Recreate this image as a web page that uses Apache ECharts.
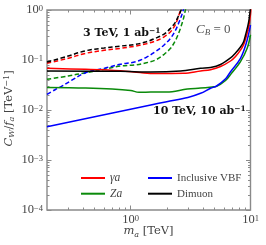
<!DOCTYPE html>
<html><head><meta charset="utf-8">
<script src="https://cdn.jsdelivr.net/npm/echarts@6/dist/echarts.min.js"></script>
<style>html,body{margin:0;padding:0;background:#fff}#c{width:266px;height:245px}</style>
</head><body><div id="c"></div>
<script>
const xMin = 0.2, xMax = 10, yMin = 1e-4, yMax = 1;
const xMajorTicks = [1, 10];
const xMinorTicks = [0.3, 0.4, 0.5, 0.6, 0.7, 0.8, 0.9, 2, 3, 4, 5, 6, 7, 8, 9];
const yMajorTicks = [1e-4, 1e-3, 1e-2, 1e-1, 1];
const yMinorTicks = [2e-4, 3e-4, 4e-4, 5e-4, 6e-4, 7e-4, 8e-4, 9e-4,
  2e-3, 3e-3, 4e-3, 5e-3, 6e-3, 7e-3, 8e-3, 9e-3,
  0.02, 0.03, 0.04, 0.05, 0.06, 0.07, 0.08, 0.09,
  0.2, 0.3, 0.4, 0.5, 0.6, 0.7, 0.8, 0.9];

// 3 TeV, 1 ab^-1 (dashed)
const gammaA_3TeV = [[0.2,0.086],[0.29,0.106],[0.42,0.136],[0.6,0.156],[0.82,0.171],[1.1,0.19],[1.35,0.212],[1.61,0.24],[1.9,0.29],[2.15,0.368],[2.35,0.5],[2.45,0.64],[2.55,0.85],[2.63,1.1]];
const dimuon_3TeV = [[0.2,0.091],[0.29,0.117],[0.42,0.153],[0.6,0.174],[0.82,0.19],[1.1,0.206],[1.35,0.232],[1.61,0.272],[1.9,0.33],[2.15,0.431],[2.35,0.56],[2.45,0.68],[2.6,0.92],[2.72,1.2]];
const vbf_3TeV = [[0.2,0.0206],[0.237,0.026],[0.26,0.029],[0.32,0.039],[0.42,0.0557],[0.6,0.068],[0.82,0.082],[1.1,0.0925],[1.35,0.113],[1.61,0.147],[1.9,0.2],[2.15,0.272],[2.35,0.38],[2.51,0.542],[2.68,0.82],[2.8,1.2]];
const za_3TeV = [[0.2,0.041],[0.3,0.048],[0.42,0.0557],[0.6,0.065],[0.82,0.0759],[1.1,0.08],[1.35,0.088],[1.61,0.1],[1.9,0.13],[2.15,0.171],[2.35,0.24],[2.51,0.342],[2.71,0.583],[2.82,0.85],[2.9,1.2]];
// 10 TeV, 10 ab^-1 (solid)
const gammaA_10TeV = [[0.2,0.068],[0.42,0.065],[0.82,0.061],[1.2,0.056],[1.6,0.0535],[2.77,0.0542],[3.83,0.0603],[4.64,0.064],[5.62,0.0741],[6.81,0.0955],[7.5,0.1175],[8.25,0.158],[8.74,0.2],[9.09,0.263],[9.62,0.437],[10,0.83],[10.1,1.2]];
const dimuon_10TeV = [[0.2,0.0603],[0.82,0.0593],[1.47,0.0575],[2.61,0.0603],[3.83,0.0682],[4.64,0.0708],[5.62,0.0813],[6.81,0.11],[7.5,0.138],[8.25,0.182],[8.74,0.229],[9.09,0.316],[9.62,0.55],[9.98,1.05]];
const za_10TeV = [[0.2,0.0282],[0.42,0.0275],[0.7,0.0263],[1.0,0.0245],[1.17,0.0226],[1.47,0.0228],[2.0,0.0229],[2.97,0.0262],[3.83,0.0275],[4.92,0.0292],[5.21,0.0297],[6.19,0.039],[6.81,0.051],[8.25,0.0925],[9.38,0.171],[10,0.32]];
const vbf_10TeV = [[0.2,0.00463],[1.47,0.0126],[2.0,0.01466],[3.0,0.0178],[3.83,0.0216],[4.64,0.0272],[5.21,0.0302],[6.19,0.042],[6.81,0.0583],[8.25,0.108],[9.23,0.219],[10,0.5]];

const FONT = '"Liberation Serif", serif';
const TFONT = '"DejaVu Serif", serif';
const AX = '#8a8a8a';
const LBL = '#444';
const RED = '#ff0000', GREEN = '#0a8a0a', BLUE = '#0000ff', BLACK = '#000';

function powLabel(v) {
  const e = Math.round(Math.log10(v));
  return '{b|10}{s|' + (e < 0 ? '\u2212' + (-e) : e) + '}';
}
const labelRich = {
  b: {fontFamily: FONT, fontSize: 12.5, color: LBL, lineHeight: 12, verticalAlign: 'bottom'},
  s: {fontFamily: FONT, fontSize: 8.5, color: LBL, lineHeight: 8, verticalAlign: 'top', padding: [0, 0, 6, 0]}
};

function xAx(pos, ticks, len, labels) {
  return {
    type: 'log', logBase: 10, min: xMin, max: xMax, position: pos,
    axisLine: {show: false}, splitLine: {show: false},
    axisTick: {show: true, inside: true, length: len, customValues: ticks, lineStyle: {color: AX, width: 1}},
    axisLabel: labels ? {show: true, customValues: xMajorTicks, formatter: powLabel, rich: labelRich, margin: 4, hideOverlap: false, showMinLabel: true, showMaxLabel: true} : {show: false}
  };
}
function yAx(pos, ticks, len, labels) {
  return {
    type: 'log', logBase: 10, min: yMin, max: yMax, position: pos,
    axisLine: {show: false}, splitLine: {show: false},
    axisTick: {show: true, inside: true, length: len, customValues: ticks, lineStyle: {color: AX, width: 1}},
    axisLabel: labels ? {show: true, customValues: yMajorTicks, formatter: powLabel, rich: labelRich, margin: 4, hideOverlap: false} : {show: false}
  };
}

function ser(name, data, color, dashed) {
  return {
    name: name, type: 'line', data: data, symbol: 'none', smooth: 0.35,
    xAxisIndex: 0, yAxisIndex: 0, clip: true,
    lineStyle: {color: color, width: 1.5, type: dashed ? [4.5, 2.5] : 'solid'},
    itemStyle: {color: color}, z: dashed ? 3 : 4
  };
}

const sub = {fontFamily: TFONT, fontStyle: 'italic', fontSize: 8, fill: LBL, lineHeight: 8, verticalAlign: 'bottom'};
const boldRich = {
  b: {fontFamily: TFONT, fontWeight: 'bold', fontSize: 11, fill: '#111', lineHeight: 12, verticalAlign: 'bottom'},
  s: {fontFamily: TFONT, fontWeight: 'bold', fontSize: 7.5, fill: '#111', lineHeight: 8, verticalAlign: 'top', padding: [0,0,6,0]}
};
const chart = echarts.init(document.getElementById('c'), null, {renderer: 'canvas'});
chart.setOption({
  animation: false,
  backgroundColor: '#fff',
  grid: {left: 47, right: 15.5, top: 10, bottom: 35, show: true, borderColor: AX, borderWidth: 1.4, backgroundColor: 'transparent'},
  xAxis: [xAx('bottom', xMinorTicks, 2.5, true), xAx('top', xMinorTicks, 2.5, false), xAx('bottom', xMajorTicks, 4.5, false), xAx('top', xMajorTicks, 4.5, false)],
  yAxis: [yAx('left', yMinorTicks, 2.5, true), yAx('right', yMinorTicks, 2.5, false), yAx('left', yMajorTicks, 4.5, false), yAx('right', yMajorTicks, 4.5, false)],
  legend: [
    {data: ['\u03b3a', 'Za'], orient: 'vertical', left: 81, top: 171.5, padding: 0, icon: 'rect', itemWidth: 24, itemHeight: 2, itemGap: 2.7,
     textStyle: {fontFamily: FONT, fontSize: 11.5, color: LBL, fontStyle: 'italic', lineHeight: 13}},
    {data: ['Inclusive VBF', 'Dimuon'], orient: 'vertical', left: 148, top: 171.5, padding: 0, icon: 'rect', itemWidth: 24, itemHeight: 2, itemGap: 2.7,
     textStyle: {fontFamily: FONT, fontSize: 11, color: LBL, lineHeight: 13}}
  ],
  graphic: [
    {type: 'text', x: 83, y: 33, z: 10, style: {text: '{b|3 TeV, 1 ab}{s|\u22121}', verticalAlign: 'middle', rich: boldRich}},
    {type: 'text', x: 153, y: 111, z: 10, style: {text: '{b|10 TeV, 10 ab}{s|\u22121}', verticalAlign: 'middle', rich: boldRich}},
    {type: 'text', x: 196, y: 30, z: 10, style: {text: '{i|C}{sub|B}{n| = 0}', verticalAlign: 'middle',
      rich: {i: {fontFamily: FONT, fontStyle: 'italic', fontSize: 13, fill: '#555', lineHeight: 14, verticalAlign: 'top', padding: [0,0,3,0]},
             sub: {fontFamily: FONT, fontStyle: 'italic', fontSize: 9, fill: '#555', lineHeight: 9, verticalAlign: 'bottom'},
             n: {fontFamily: FONT, fontSize: 13, fill: '#555', lineHeight: 14, verticalAlign: 'top', padding: [0,0,3,0]}}}},
    {type: 'text', x: 148.5, y: 232, z: 10, style: {text: '{i|m}{sub|a}{n| [TeV]}', align: 'center', verticalAlign: 'middle',
      rich: {i: {fontFamily: TFONT, fontStyle: 'italic', fontSize: 11.5, fill: LBL, lineHeight: 13, verticalAlign: 'top', padding: [0,0,3,0]},
             sub: sub,
             n: {fontFamily: TFONT, fontSize: 11.5, fill: LBL, lineHeight: 13, verticalAlign: 'top', padding: [0,0,3,0]}}}},
    {type: 'text', x: 9, y: 108.5, rotation: Math.PI / 2, z: 10, style: {text: '{i|C}{sub|W}{n|/}{i|f}{sub|a}{n| [TeV}{sup|\u22121}{n|]}', align: 'center', verticalAlign: 'middle',
      rich: {i: {fontFamily: TFONT, fontStyle: 'italic', fontSize: 11.5, fill: LBL, lineHeight: 13, verticalAlign: 'middle', padding: [3,0,3,0]},
             sub: sub,
             sup: {fontFamily: TFONT, fontSize: 8, fill: LBL, lineHeight: 8, verticalAlign: 'top'},
             n: {fontFamily: TFONT, fontSize: 11.5, fill: LBL, lineHeight: 13, verticalAlign: 'middle', padding: [3,0,3,0]}}}}
  ],
  series: [
    ser('\u03b3a', gammaA_10TeV, RED, false),
    ser('Za', za_10TeV, GREEN, false),
    ser('Inclusive VBF', vbf_10TeV, BLUE, false),
    ser('Dimuon', dimuon_10TeV, BLACK, false),
    ser('\u03b3a', gammaA_3TeV, RED, true),
    ser('Za', za_3TeV, GREEN, true),
    ser('Inclusive VBF', vbf_3TeV, BLUE, true),
    ser('Dimuon', dimuon_3TeV, BLACK, true)
  ]
});
</script></body></html>
